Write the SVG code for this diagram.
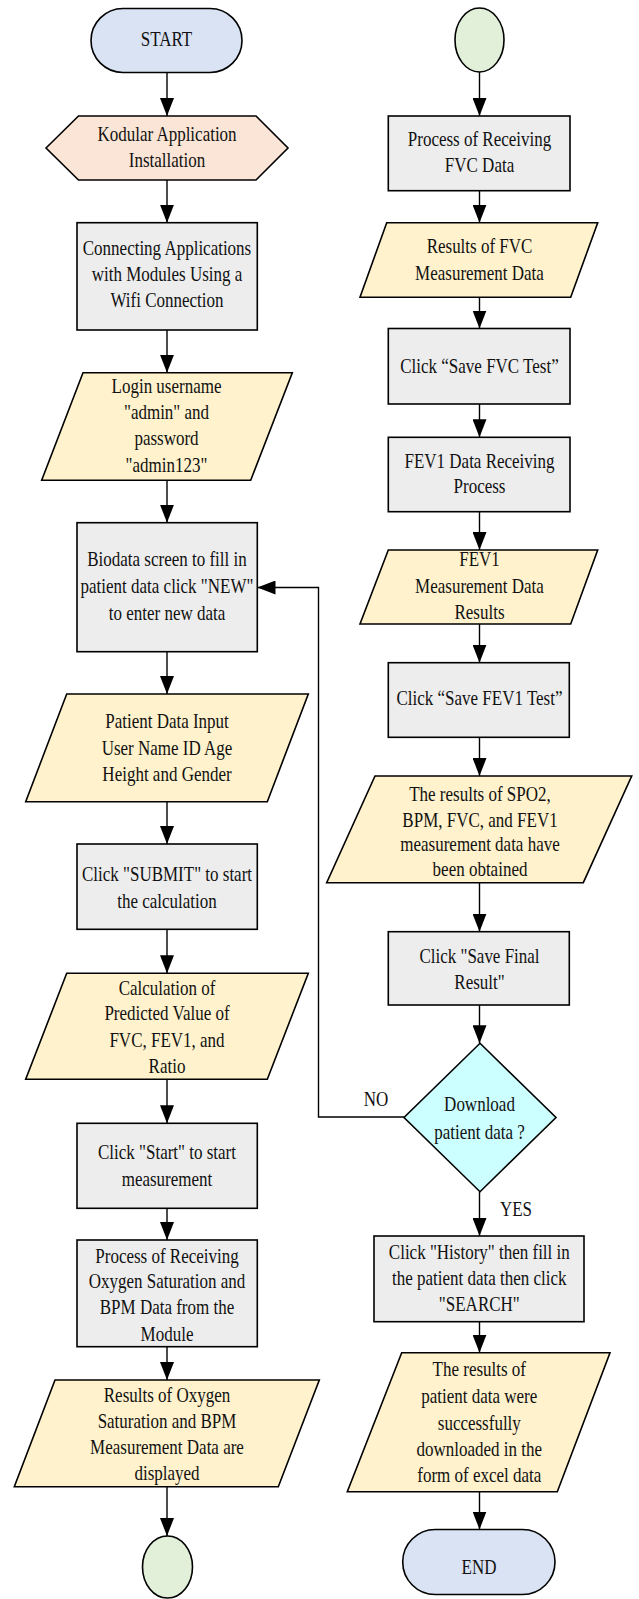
<svg xmlns="http://www.w3.org/2000/svg" width="639" height="1599" viewBox="0 0 639 1599">
<style>
  .sh{stroke:#000;stroke-width:1.6;}
  .term{fill:#dae3f3;}
  .prep{fill:#fbe5d6;}
  .proc{fill:#ededed;}
  .io{fill:#fff2cc;}
  .conn{fill:#e2f0d9;}
  .dec{fill:#ccffff;}
  text{font-family:"Liberation Serif","Times New Roman",serif;font-size:20px;fill:#111;text-anchor:middle;}
  .ln{fill:none;stroke:#000;stroke-width:1.4;marker-end:url(#ah);}
</style>
<defs>
  <marker id="ah" markerUnits="userSpaceOnUse" markerWidth="18" markerHeight="14" refX="18" refY="7" orient="auto">
    <path d="M0,0 L18,7 L0,14 z" fill="#000"/>
  </marker>
</defs>
<rect width="639" height="1599" fill="#fff"/>

<g id="connectors">
  <line class="ln" x1="167" y1="72.7" x2="167" y2="116"/>
  <line class="ln" x1="167" y1="180" x2="167" y2="222.7"/>
  <line class="ln" x1="167" y1="330" x2="167" y2="372.7"/>
  <line class="ln" x1="167" y1="480.3" x2="167" y2="522.7"/>
  <line class="ln" x1="167" y1="651.7" x2="167" y2="694"/>
  <line class="ln" x1="167" y1="801.7" x2="167" y2="844"/>
  <line class="ln" x1="167" y1="929.3" x2="167" y2="973.3"/>
  <line class="ln" x1="167" y1="1079.3" x2="167" y2="1123.3"/>
  <line class="ln" x1="167" y1="1208.3" x2="167" y2="1240"/>
  <line class="ln" x1="167" y1="1346.7" x2="167" y2="1380"/>
  <line class="ln" x1="167" y1="1486.7" x2="167" y2="1536"/>
  <line class="ln" x1="479.5" y1="72" x2="479.5" y2="116"/>
  <line class="ln" x1="479.5" y1="190.7" x2="479.5" y2="222.7"/>
  <line class="ln" x1="479.5" y1="297.3" x2="479.5" y2="328.5"/>
  <line class="ln" x1="479.5" y1="404" x2="479.5" y2="437.3"/>
  <line class="ln" x1="479.5" y1="511.7" x2="479.5" y2="550"/>
  <line class="ln" x1="479.5" y1="624" x2="479.5" y2="662.7"/>
  <line class="ln" x1="479.5" y1="737.3" x2="479.5" y2="776"/>
  <line class="ln" x1="479.5" y1="882.7" x2="479.5" y2="931.7"/>
  <line class="ln" x1="479.5" y1="1005" x2="479.5" y2="1043.3"/>
  <line class="ln" x1="479.5" y1="1191.7" x2="479.5" y2="1236"/>
  <line class="ln" x1="479.5" y1="1321.7" x2="479.5" y2="1352.7"/>
  <line class="ln" x1="479.5" y1="1491.7" x2="479.5" y2="1529.5"/>
  <polyline class="ln" points="404,1117 318.5,1117 318.5,587.5 257.5,587.5"/>
  <text transform="matrix(0.85 0 0 1 376 0)" x="0" y="1106">NO</text>
  <text transform="matrix(0.85 0 0 1 516 0)" x="0" y="1216">YES</text>
</g>

<g id="start">
  <rect class="sh term" x="91" y="8.5" width="151" height="64" rx="32" ry="32"/>
  <text transform="matrix(0.85 0 0 1 166.5 0)" x="0" y="46">START</text>
</g>
<g id="install">
  <polygon class="sh prep" points="46,148 78.5,116 256,116 288,148 256,180 78.5,180"/>
  <text transform="matrix(0.85 0 0 1 167 0)"><tspan x="0" y="141">Kodular Application</tspan><tspan x="0" y="167">Installation</tspan></text>
</g>
<g id="connect">
  <rect class="sh proc" x="77" y="222.7" width="180.3" height="107.3"/>
  <text transform="matrix(0.85 0 0 1 167 0)"><tspan x="0" y="255">Connecting Applications</tspan><tspan x="0" y="281">with Modules Using a</tspan><tspan x="0" y="307">Wifi Connection</tspan></text>
</g>
<g id="login">
  <polygon class="sh io" points="83,372.7 292.3,372.7 250.7,480.3 41.7,480.3"/>
  <text transform="matrix(0.85 0 0 1 166.5 0)"><tspan x="0" y="393">Login username</tspan><tspan x="0" y="419">"admin" and</tspan><tspan x="0" y="445">password</tspan><tspan x="0" y="472">"admin123"</tspan></text>
</g>
<g id="biodata">
  <rect class="sh proc" x="77" y="522.7" width="180.3" height="129"/>
  <text transform="matrix(0.85 0 0 1 167 0)"><tspan x="0" y="566">Biodata screen to fill in</tspan><tspan x="0" y="593">patient data click "NEW"</tspan><tspan x="0" y="620">to enter new data</tspan></text>
</g>
<g id="patient">
  <polygon class="sh io" points="66.7,694 308.3,694 267.3,801.7 25.7,801.7"/>
  <text transform="matrix(0.85 0 0 1 167 0)"><tspan x="0" y="728">Patient Data Input</tspan><tspan x="0" y="755">User Name ID Age</tspan><tspan x="0" y="781">Height and Gender</tspan></text>
</g>
<g id="submit">
  <rect class="sh proc" x="77" y="844" width="180.3" height="85.3"/>
  <text transform="matrix(0.85 0 0 1 167 0)"><tspan x="0" y="881">Click "SUBMIT" to start</tspan><tspan x="0" y="908">the calculation</tspan></text>
</g>
<g id="calc">
  <polygon class="sh io" points="66.7,973.3 308.3,973.3 267.3,1079.3 25.7,1079.3"/>
  <text transform="matrix(0.85 0 0 1 167 0)"><tspan x="0" y="995">Calculation of</tspan><tspan x="0" y="1020">Predicted Value of</tspan><tspan x="0" y="1047">FVC, FEV1, and</tspan><tspan x="0" y="1073">Ratio</tspan></text>
</g>
<g id="startmeas">
  <rect class="sh proc" x="77" y="1123.3" width="180.3" height="85"/>
  <text transform="matrix(0.85 0 0 1 167 0)"><tspan x="0" y="1159">Click "Start" to start</tspan><tspan x="0" y="1186">measurement</tspan></text>
</g>
<g id="oxyproc">
  <rect class="sh proc" x="77" y="1240" width="180.3" height="106.7"/>
  <text transform="matrix(0.85 0 0 1 167 0)"><tspan x="0" y="1263">Process of Receiving</tspan><tspan x="0" y="1288">Oxygen Saturation and</tspan><tspan x="0" y="1314">BPM Data from the</tspan><tspan x="0" y="1341">Module</tspan></text>
</g>
<g id="oxyres">
  <polygon class="sh io" points="55,1380 319.3,1380 278.3,1486.7 14.3,1486.7"/>
  <text transform="matrix(0.85 0 0 1 167 0)"><tspan x="0" y="1402">Results of Oxygen</tspan><tspan x="0" y="1428">Saturation and BPM</tspan><tspan x="0" y="1454">Measurement Data are</tspan><tspan x="0" y="1480">displayed</tspan></text>
</g>
<g id="conn-a">
  <ellipse class="sh conn" cx="167.5" cy="1567" rx="25" ry="31"/>
</g>

<g id="conn-b">
  <ellipse class="sh conn" cx="479.5" cy="40" rx="24.5" ry="32"/>
</g>
<g id="fvcproc">
  <rect class="sh proc" x="388.3" y="116" width="181.7" height="74.7"/>
  <text transform="matrix(0.85 0 0 1 479.5 0)"><tspan x="0" y="146">Process of Receiving</tspan><tspan x="0" y="172">FVC Data</tspan></text>
</g>
<g id="fvcres">
  <polygon class="sh io" points="386.7,222.7 597.7,222.7 570.7,297.3 360,297.3"/>
  <text transform="matrix(0.85 0 0 1 479.5 0)"><tspan x="0" y="253">Results of FVC</tspan><tspan x="0" y="280">Measurement Data</tspan></text>
</g>
<g id="savefvc">
  <rect class="sh proc" x="388.3" y="328.5" width="181.7" height="75.5"/>
  <text transform="matrix(0.85 0 0 1 479.5 0)" x="0" y="373">Click “Save FVC Test”</text>
</g>
<g id="fev1proc">
  <rect class="sh proc" x="388.3" y="437.3" width="181.7" height="74.4"/>
  <text transform="matrix(0.85 0 0 1 479.5 0)"><tspan x="0" y="468">FEV1 Data Receiving</tspan><tspan x="0" y="493">Process</tspan></text>
</g>
<g id="fev1res">
  <polygon class="sh io" points="388.3,550 597.7,550 570.7,624 360,624"/>
  <text transform="matrix(0.85 0 0 1 479.5 0)"><tspan x="0" y="566">FEV1</tspan><tspan x="0" y="593">Measurement Data</tspan><tspan x="0" y="619">Results</tspan></text>
</g>
<g id="savefev1">
  <rect class="sh proc" x="388.3" y="662.7" width="181" height="74.6"/>
  <text transform="matrix(0.85 0 0 1 479.5 0)" x="0" y="705">Click “Save FEV1 Test”</text>
</g>
<g id="allres">
  <polygon class="sh io" points="375,776 631.7,776 583.3,882.7 326.7,882.7"/>
  <text transform="matrix(0.85 0 0 1 480 0)"><tspan x="0" y="801">The results of SPO2,</tspan><tspan x="0" y="827">BPM, FVC, and FEV1</tspan><tspan x="0" y="851">measurement data have</tspan><tspan x="0" y="876">been obtained</tspan></text>
</g>
<g id="savefinal">
  <rect class="sh proc" x="388.3" y="931.7" width="181" height="73.3"/>
  <text transform="matrix(0.85 0 0 1 479.5 0)"><tspan x="0" y="963">Click "Save Final</tspan><tspan x="0" y="989">Result"</tspan></text>
</g>
<g id="download">
  <polygon class="sh dec" points="480,1043.3 556,1117.5 480,1191.7 404,1117.5"/>
  <text transform="matrix(0.85 0 0 1 479.5 0)"><tspan x="0" y="1111">Download</tspan><tspan x="0" y="1139">patient data ?</tspan></text>
</g>
<g id="history">
  <rect class="sh proc" x="374" y="1236" width="210" height="85.7"/>
  <text transform="matrix(0.85 0 0 1 479.3 0)"><tspan x="0" y="1259">Click "History" then fill in</tspan><tspan x="0" y="1285">the patient data then click</tspan><tspan x="0" y="1311">"SEARCH"</tspan></text>
</g>
<g id="dlres">
  <polygon class="sh io" points="401.7,1352.7 610,1352.7 557.3,1491.7 347.3,1491.7"/>
  <text transform="matrix(0.85 0 0 1 479.3 0)"><tspan x="0" y="1376">The results of</tspan><tspan x="0" y="1403">patient data were</tspan><tspan x="0" y="1430">successfully</tspan><tspan x="0" y="1456">downloaded in the</tspan><tspan x="0" y="1482">form of excel data</tspan></text>
</g>
<g id="end">
  <rect class="sh term" x="402.7" y="1529.5" width="152.3" height="65" rx="32.5" ry="32.5"/>
  <text transform="matrix(0.85 0 0 1 479 0)" x="0" y="1574">END</text>
</g>
</svg>
